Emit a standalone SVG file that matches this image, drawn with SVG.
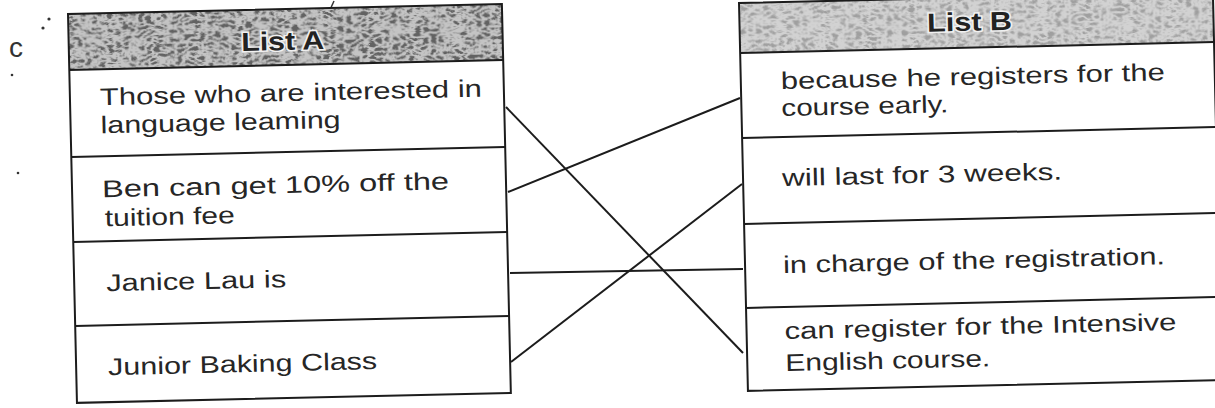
<svg xmlns="http://www.w3.org/2000/svg" width="1215" height="408" viewBox="0 0 1215 408">
<style>
.frame{fill:none;stroke:#1c1c1c;stroke-width:2}
.row{stroke:#1c1c1c;stroke-width:2}
.hdrA{fill:#c4c4c4;filter:url(#texA)}
.hdrB{fill:#d2d2d2;filter:url(#texB)}
.t{font-family:"Liberation Sans",Arial,sans-serif;font-size:24px;fill:#262626}
.h{font-family:"Liberation Sans",Arial,sans-serif;font-size:26px;font-weight:bold;fill:#222;stroke:#f0f0f0;stroke-width:3;paint-order:stroke;text-anchor:middle}
.conn line{stroke:#1c1c1c;stroke-width:2}
.mark{font-family:"Liberation Sans",Arial,sans-serif;font-size:28px;fill:#333}
</style>
<defs>
<filter id="texA" x="0" y="0" width="1" height="1" filterUnits="objectBoundingBox">
<feTurbulence type="turbulence" baseFrequency="0.13 0.22" numOctaves="2" seed="7" result="n"/>
<feColorMatrix in="n" type="matrix" values="0 0 0 0 0.12  0 0 0 0 0.12  0 0 0 0 0.12  3.6 0 0 0 -0.55" result="d"/>
<feComposite in="d" in2="SourceGraphic" operator="in" result="c"/>
<feMerge><feMergeNode in="SourceGraphic"/><feMergeNode in="c"/></feMerge>
</filter>
<filter id="texB" x="0" y="0" width="1" height="1" filterUnits="objectBoundingBox">
<feTurbulence type="turbulence" baseFrequency="0.13 0.22" numOctaves="2" seed="3" result="n"/>
<feColorMatrix in="n" type="matrix" values="0 0 0 0 0.35  0 0 0 0 0.35  0 0 0 0 0.35  3 0 0 0 -0.5" result="d"/>
<feComposite in="d" in2="SourceGraphic" operator="in" result="c"/>
<feMerge><feMergeNode in="SourceGraphic"/><feMergeNode in="c"/></feMerge>
</filter>
</defs>
<rect width="1215" height="408" fill="#ffffff"/>

<g id="marks">
<text class="mark" x="9" y="57">c</text>
<circle cx="49" cy="19" r="1.6" fill="#333"/>
<circle cx="43" cy="28" r="1.6" fill="#333"/>
<circle cx="12" cy="75" r="1.3" fill="#333"/>
<circle cx="18" cy="173" r="1.3" fill="#333"/>
<path d="M334,1 L329,12" stroke="#333" stroke-width="1.5" fill="none"/>
</g>

<g id="listA" transform="translate(68,14) rotate(-1.32)">
<rect class="hdrA" x="0" y="0" width="434" height="56"/>
<text class="h" x="214" y="41" textLength="83" lengthAdjust="spacingAndGlyphs">List A</text>
<rect class="frame" x="0" y="0" width="434" height="389"/>
<line class="row" x1="0" y1="56" x2="434" y2="56"/>
<g id="a1">
<line class="row" x1="0" y1="143" x2="434" y2="143"/>
<text class="t" x="30" y="92" textLength="382" lengthAdjust="spacingAndGlyphs">Those who are interested in</text>
<text class="t" x="30" y="120" textLength="240" lengthAdjust="spacingAndGlyphs">language leaming</text>
</g>
<g id="a2">
<line class="row" x1="0" y1="228" x2="434" y2="228"/>
<text class="t" x="30" y="184" textLength="347" lengthAdjust="spacingAndGlyphs">Ben can get 10% off the</text>
<text class="t" x="32" y="213" textLength="130" lengthAdjust="spacingAndGlyphs">tuition fee</text>
</g>
<g id="a3">
<line class="row" x1="0" y1="312" x2="434" y2="312"/>
<text class="t" x="32" y="278" textLength="180" lengthAdjust="spacingAndGlyphs">Janice Lau is</text>
</g>
<g id="a4">
<text class="t" x="32" y="362" textLength="269" lengthAdjust="spacingAndGlyphs">Junior Baking Class</text>
</g>
</g>

<g id="listB" transform="translate(739,3) rotate(-1.32)">
<rect class="hdrB" x="0" y="0" width="474" height="50"/>
<text class="h" x="230" y="33" textLength="85" lengthAdjust="spacingAndGlyphs">List B</text>
<rect class="frame" x="0" y="0" width="474" height="388"/>
<line class="row" x1="0" y1="50" x2="474" y2="50"/>
<g id="b1">
<line class="row" x1="0" y1="135" x2="474" y2="135"/>
<text class="t" x="40" y="87" textLength="384" lengthAdjust="spacingAndGlyphs">because he registers for the</text>
<text class="t" x="40" y="114" textLength="167" lengthAdjust="spacingAndGlyphs">course early.</text>
</g>
<g id="b2">
<line class="row" x1="0" y1="221" x2="474" y2="221"/>
<text class="t" x="39" y="184" textLength="280" lengthAdjust="spacingAndGlyphs">will last for 3 weeks.</text>
</g>
<g id="b3">
<line class="row" x1="0" y1="305" x2="474" y2="305"/>
<text class="t" x="38" y="271" textLength="382" lengthAdjust="spacingAndGlyphs">in charge of the registration.</text>
</g>
<g id="b4">
<text class="t" x="38" y="337" textLength="392" lengthAdjust="spacingAndGlyphs">can register for the Intensive</text>
<text class="t" x="38" y="369" textLength="205" lengthAdjust="spacingAndGlyphs">English course.</text>
</g>
</g>

<g id="connectors" class="conn">
<line x1="506" y1="107" x2="743" y2="353"/>
<line x1="508" y1="192" x2="740" y2="98"/>
<line x1="510" y1="273" x2="743" y2="269"/>
<line x1="511" y1="362" x2="742" y2="184"/>
</g>
</svg>
